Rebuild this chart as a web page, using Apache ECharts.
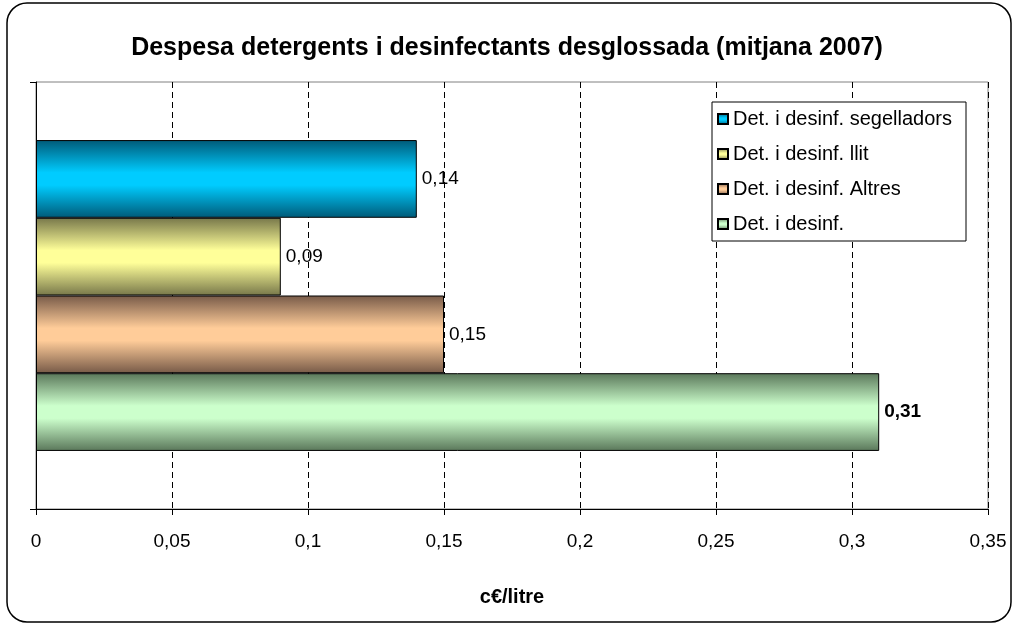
<!DOCTYPE html>
<html>
<head>
<meta charset="utf-8">
<script src="https://cdn.jsdelivr.net/npm/echarts@6/dist/echarts.min.js"></script>
<style>html,body{margin:0;padding:0;background:#fff;}#c{width:1014px;height:625px;}</style>
</head>
<body>
<div id="c"></div>
<script>
var categories = ['Despesa'];
var seriesNames = ['Det. i desinf. segelladors', 'Det. i desinf. llit', 'Det. i desinf. Altres', 'Det. i desinf.'];
var seriesValues = [[0.14], [0.09], [0.15], [0.31]];
var xTicks = [0, 0.05, 0.1, 0.15, 0.2, 0.25, 0.3, 0.35];

var FONT = "'Liberation Sans', Arial, sans-serif";
var palette = [
  ['#005A78', '#00CCFF'],
  ['#77774A', '#FFFF99'],
  ['#775A48', '#FFCC99'],
  ['#5A775A', '#CCFFCC']
];
function grad(p) {
  return new echarts.graphic.LinearGradient(0, 0, 0, 1, [
    {offset: 0, color: p[0]},
    {offset: 0.42, color: p[1]},
    {offset: 0.58, color: p[1]},
    {offset: 1, color: p[0]}
  ]);
}
function fmt(v) { return String(+v.toFixed(2)).replace('.', ','); }

var series = seriesNames.map(function (name, i) {
  return {
    name: name,
    type: 'bar',
    data: seriesValues[i],
    barGap: '0%',
    barCategoryGap: '27.2%',
    itemStyle: {color: grad(palette[i]), borderColor: '#000', borderWidth: 1},
    label: {
      show: true,
      position: 'right',
      distance: 5,
      color: '#000',
      fontFamily: FONT,
      fontSize: 19,
      fontWeight: i === 3 ? 'bold' : 'normal',
      formatter: function (p) { return fmt(p.value); }
    }
  };
});

var chart = echarts.init(document.getElementById('c'));
chart.setOption({
  animation: false,
  backgroundColor: '#fff',
  title: {
    text: 'Despesa detergents i desinfectants desglossada (mitjana 2007)',
    left: 'center',
    top: 36,
    padding: 0,
    textStyle: {fontFamily: FONT, fontSize: 25, fontWeight: 'bold', color: '#000'}
  },
  legend: {
    orient: 'vertical',
    left: 712,
    top: 102,
    padding: [7, 14, 7, 5],
    itemGap: 15,
    itemWidth: 10,
    itemHeight: 10,
    itemTextGap: 10,
    icon: 'rect',
    backgroundColor: '#fff',
    borderColor: '#000',
    borderWidth: 1,
    borderRadius: 0,
    data: seriesNames,
    textStyle: {fontFamily: FONT, fontSize: 20, color: '#000', lineHeight: 20}
  },
  grid: {
    left: 36, right: 26, top: 82, bottom: 116,
    show: true, borderColor: '#808080', borderWidth: 1, containLabel: false
  },
  xAxis: {
    type: 'value',
    min: xTicks[0],
    max: xTicks[xTicks.length - 1],
    interval: 0.05,
    name: 'c€/litre',
    nameLocation: 'middle',
    nameGap: 78,
    nameTextStyle: {fontFamily: FONT, fontSize: 20, fontWeight: 'bold', color: '#000'},
    axisLine: {show: true, lineStyle: {color: '#000', width: 1}},
    axisTick: {show: true, length: 6, lineStyle: {color: '#000'}},
    axisLabel: {
      margin: 23,
      fontFamily: FONT, fontSize: 19, color: '#000',
      formatter: function (v) { return fmt(v); }
    },
    splitLine: {show: true, lineStyle: {color: '#000', type: [6, 4], width: 1}}
  },
  yAxis: {
    type: 'category',
    data: categories,
    inverse: true,
    axisLine: {show: true, lineStyle: {color: '#000', width: 1}},
    axisTick: {show: true, length: 6, lineStyle: {color: '#000'}},
    axisLabel: {show: false},
    splitLine: {show: false}
  },
  graphic: [{
    type: 'rect',
    shape: {x: 7, y: 3, width: 1004, height: 619, r: 20},
    style: {fill: 'none', stroke: '#000', lineWidth: 1.5},
    silent: true,
    z: 100
  }],
  series: series
});
</script>
</body>
</html>
